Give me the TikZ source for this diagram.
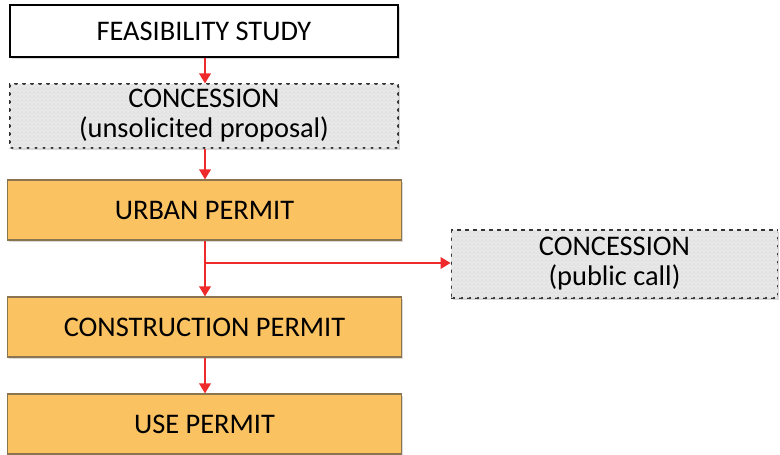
\documentclass[tikz,border=0pt]{standalone}
\usepackage{fontspec}
\setmainfont{Carlito}
\usetikzlibrary{arrows.meta,patterns,shadows}
\definecolor{permitfill}{HTML}{FBC262}
\definecolor{permitline}{HTML}{8A7550}
\definecolor{arrowred}{HTML}{EE2A2A}
\definecolor{concfill}{HTML}{E9E9E9}
\tikzset{
  box/.style={rectangle, inner sep=0pt, align=center, font=\fontsize{21.3}{22.5}\selectfont,
    drop shadow={shadow xshift=1.2pt, shadow yshift=-1.5pt, opacity=0.25, fill=black!60}},
  studybox/.style={box, draw=black, line width=1pt, fill=white},
  concbox/.style={box, draw=black!80, dashed, line width=0.8pt, fill=concfill,
    postaction={pattern=crosshatch, pattern color=black!12}},
  permitbox/.style={box, draw=permitline, line width=0.8pt, fill=permitfill},
  flow/.style={draw=arrowred, line width=1.6pt, -{Triangle[width=8.5pt,length=7.5pt]}},
}
\begin{document}
\begin{tikzpicture}[x=0.75pt,y=-0.75pt]
\useasboundingbox (0,0) rectangle (780,454);
\node[studybox, minimum width=291pt, minimum height=39pt] (fs) at (204,31) {FEASIBILITY STUDY};
\node[concbox, minimum width=291pt, minimum height=48pt] (c1) at (204,116) {CONCESSION\\(unsolicited proposal)};
\node[permitbox, minimum width=296pt, minimum height=45pt] (up) at (204.5,210) {URBAN PERMIT};
\node[permitbox, minimum width=296pt, minimum height=45pt] (cp) at (204.5,327) {CONSTRUCTION PERMIT};
\node[permitbox, minimum width=296pt, minimum height=45pt] (us) at (204.5,424) {USE PERMIT};
\node[concbox, minimum width=245pt, minimum height=51pt] (c2) at (614.5,264) {CONCESSION\\(public call)};
\coordinate (br) at (205,263);
\draw[flow] (fs.south -| br) -- (c1.north -| br);
\draw[flow] (c1.south -| br) -- (up.north -| br);
\draw[flow] (up.south -| br) -- (cp.north -| br);
\draw[flow] (br) -- (br -| c2.west);
\draw[flow] (cp.south -| br) -- (us.north -| br);
\end{tikzpicture}
\end{document}
